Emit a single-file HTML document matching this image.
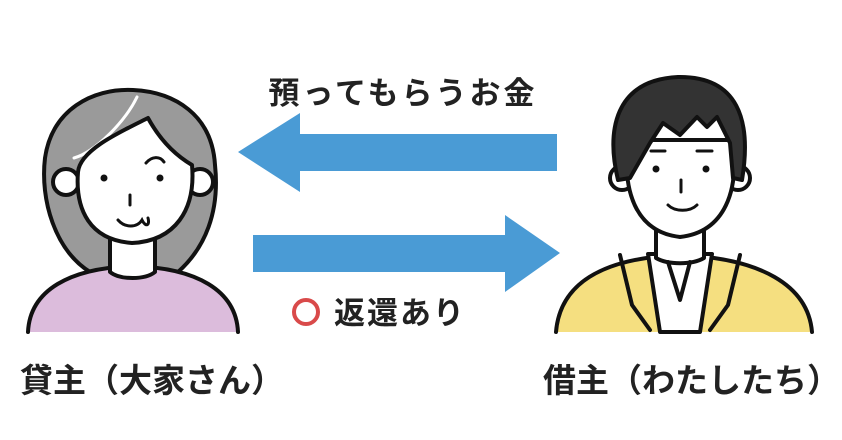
<!DOCTYPE html>
<html><head><meta charset="utf-8"><style>
body{margin:0;width:842px;height:440px;background:#fff;overflow:hidden}
svg{display:block}
text{font-family:"Liberation Sans","Noto Sans CJK JP",sans-serif;font-weight:bold;fill:#222}
</style></head><body>
<svg width="842" height="440" viewBox="0 0 842 440">
<!-- arrows -->
<polygon points="557,134 300,134 300,113 238,152 300,192 300,171 557,171" fill="#4a9bd5"/>
<polygon points="253,235 505,235 505,215 560,253 505,292 505,272 253,272" fill="#4a9bd5"/>
<text x="403" y="104" font-size="31" text-anchor="middle" letter-spacing="3">預ってもらうお金</text>
<circle cx="306" cy="312" r="12" fill="none" stroke="#d94a4a" stroke-width="4"/>
<text x="334" y="324" font-size="31" letter-spacing="2">返還あり</text>
<text x="20" y="392" font-size="33">貸主（大家さん）</text>
<text x="543" y="392" font-size="33">借主（わたしたち）</text>

<!-- woman -->
<g stroke="#111" stroke-width="4" stroke-linejoin="round" stroke-linecap="round">
<path d="M90,272 C55,250 40,200 45,158 C52,110 92,88 133,90 C175,92 212,115 215,165 C220,212 205,248 178,272 Z" fill="#9a9a9a"/>
<path d="M28,332 C30,290 70,268 133,266 C196,268 236,290 238,332" fill="#dcbcdc"/>
<path d="M110,228 L110,272 C120,280 145,280 155,272 L155,228 Z" fill="#fff"/>
<circle cx="66" cy="182" r="13" fill="#fff"/>
<circle cx="200" cy="182" r="13" fill="#fff"/>
</g>
<path d="M74,158 C95,152 125,122 137,97" stroke="#fff" stroke-width="3" fill="none" stroke-linecap="round"/>
<path d="M78,172 C80,150 120,132 148,118 C160,140 175,155 192,165 C196,210 175,241 132,243 C90,240 75,210 78,172 Z" fill="#fff" stroke="#111" stroke-width="4" stroke-linejoin="round"/>
<g fill="#111"><circle cx="104" cy="178" r="3.5"/><circle cx="160" cy="178" r="3.5"/></g>
<g stroke="#111" stroke-width="3" fill="none" stroke-linecap="round">
<path d="M146,163 C152,156 160,156 164,162"/><path d="M130,195 L130,205"/>
<path d="M118,220 C125,228 137,228 142,220 C146,228 150,225 148,218"/>
</g>

<!-- man -->
<g stroke="#111" stroke-width="4" stroke-linejoin="round" stroke-linecap="round">
<path d="M556,332 C560,285 600,258 680,255 C760,258 808,285 812,332" fill="#f5df80"/>
<path d="M648,254 L660,332 L700,332 L712,254 Z" fill="#fff"/>
<path d="M620,255 L632,305 L650,330 M740,255 L728,305 L710,330" fill="none"/>
<path d="M656,225 L656,258 C668,265 692,265 704,258 L704,225 Z" fill="#fff"/>
<path d="M668,262 L680,300 L690,262" fill="none"/>
<circle cx="622" cy="178" r="12" fill="#fff"/>
<circle cx="738" cy="178" r="12" fill="#fff"/>
<path d="M628,140 C622,190 635,232 680,237 C725,232 740,190 732,140 Z" fill="#fff"/>
<path d="M618,180 C606,130 615,80 678,77 C738,76 752,120 742,180 L733,178 L730,143 L717,117 L707,127 L697,117 L680,135 L663,123 L650,143 L630,178 Z" fill="#333"/>
</g>
<g fill="#111"><circle cx="656" cy="169" r="3.5"/><circle cx="706" cy="169" r="3.5"/></g>
<g stroke="#111" stroke-width="3" fill="none" stroke-linecap="round">
<path d="M651,151 L665,151"/><path d="M697,151 L712,151"/><path d="M681,180 L681,192"/>
<path d="M668,205 C675,212 690,212 697,205"/>
</g>
</svg>
</body></html>
